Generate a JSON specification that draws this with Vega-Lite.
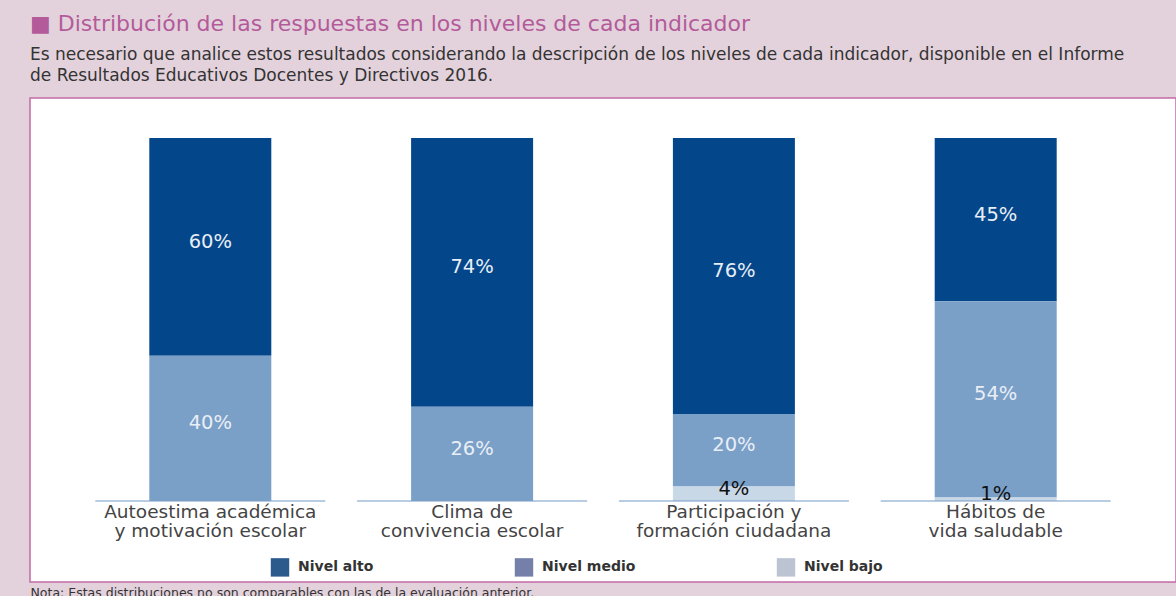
{
  "$schema": "https://vega.github.io/schema/vega-lite/v6.json",
  "width": 1146,
  "height": 484,
  "autosize": {"type": "none"},
  "padding": {"left": 30, "top": 98, "right": 0, "bottom": 14},
  "background": "#e3d2dc",
  "title": {
    "text": "■ Distribución de las respuestas en los niveles de cada indicador",
    "subtitle": ["Es necesario que analice estos resultados considerando la descripción de los niveles de cada indicador, disponible en el Informe", "de Resultados Educativos Docentes y Directivos 2016."],
    "anchor": "start",
    "frame": "group",
    "font": "DejaVu Sans",
    "fontSize": 22,
    "fontWeight": "normal",
    "color": "#b35b9a",
    "subtitleFont": "DejaVu Sans",
    "subtitleFontSize": 17,
    "subtitleColor": "#333333",
    "subtitleLineHeight": 21,
    "subtitlePadding": 11,
    "offset": 13
  },
  "data": {
    "values": [
      {"indicador": "Autoestima académica|y motivación escolar", "nivel": "Nivel alto", "orden": 3, "valor": 60},
      {"indicador": "Autoestima académica|y motivación escolar", "nivel": "Nivel medio", "orden": 2, "valor": 40},
      {"indicador": "Autoestima académica|y motivación escolar", "nivel": "Nivel bajo", "orden": 1, "valor": 0},
      {"indicador": "Clima de|convivencia escolar", "nivel": "Nivel alto", "orden": 3, "valor": 74},
      {"indicador": "Clima de|convivencia escolar", "nivel": "Nivel medio", "orden": 2, "valor": 26},
      {"indicador": "Clima de|convivencia escolar", "nivel": "Nivel bajo", "orden": 1, "valor": 0},
      {"indicador": "Participación y|formación ciudadana", "nivel": "Nivel alto", "orden": 3, "valor": 76},
      {"indicador": "Participación y|formación ciudadana", "nivel": "Nivel medio", "orden": 2, "valor": 20},
      {"indicador": "Participación y|formación ciudadana", "nivel": "Nivel bajo", "orden": 1, "valor": 4},
      {"indicador": "Hábitos de|vida saludable", "nivel": "Nivel alto", "orden": 3, "valor": 45},
      {"indicador": "Hábitos de|vida saludable", "nivel": "Nivel medio", "orden": 2, "valor": 54},
      {"indicador": "Hábitos de|vida saludable", "nivel": "Nivel bajo", "orden": 1, "valor": 1}
    ]
  },
  "transform": [
    {"stack": "valor", "groupby": ["indicador"], "sort": [{"field": "orden", "order": "ascending"}], "as": ["v0", "v1"]},
    {"calculate": "(datum.v0 + datum.v1) / 2", "as": "mid"},
    {"calculate": "datum.valor + '%'", "as": "etiqueta"}
  ],
  "encoding": {
    "x": {
      "field": "indicador",
      "type": "nominal",
      "sort": null,
      "scale": {"paddingInner": 0.534, "paddingOuter": 0.4557},
      "axis": {
        "orient": "bottom",
        "offset": -81,
        "domain": false,
        "ticks": false,
        "labelAngle": 0,
        "labelPadding": 1,
        "labelFont": "DejaVu Sans",
        "labelFontSize": 18.5,
        "labelColor": "#444444",
        "labelLineHeight": 19.5,
        "labelLimit": 400,
        "labelExpr": "split(datum.label, '|')",
        "title": "Nota: Estas distribuciones no son comparables con las de la evaluación anterior.",
        "titleFont": "DejaVu Sans",
        "titleFontSize": 12.5,
        "titleFontWeight": "normal",
        "titleColor": "#333333",
        "titleX": 0,
        "titleY": 91,
        "titleAlign": "left",
        "titleBaseline": "middle",
        "titleAnchor": "start"
      }
    }
  },
  "layer": [
    {
      "mark": {"type": "bar"},
      "encoding": {
        "y": {"field": "v0", "type": "quantitative", "scale": {"domain": [-22.3, 111], "nice": false, "zero": false}, "axis": null},
        "y2": {"field": "v1"},
        "color": {
          "field": "nivel",
          "type": "nominal",
          "scale": {"domain": ["Nivel alto", "Nivel medio", "Nivel bajo"], "range": ["#03468a", "#7ba0c8", "#c9d8e7"]},
          "legend": null
        }
      }
    },
    {
      "mark": {"type": "bar"},
      "encoding": {
        "y": {"field": "v0", "type": "quantitative"},
        "y2": {"field": "v0"},
        "color": {
          "field": "nivel",
          "type": "nominal",
          "scale": {"domain": ["Nivel alto", "Nivel medio", "Nivel bajo"], "range": ["#2d5a8c", "#7480aa", "#bcc3d3"]},
          "legend": {
            "title": null,
            "orient": "none",
            "direction": "horizontal",
            "legendX": 240,
            "legendY": 459,
            "symbolType": "square",
            "symbolSize": 340,
            "labelFont": "DejaVu Sans",
            "labelFontSize": 14,
            "labelFontWeight": "bold",
            "labelColor": "#333333",
            "labelOffset": 8,
            "columnPadding": 140
          }
        }
      }
    },
    {
      "mark": {"type": "tick", "size": 230, "thickness": 1.5, "color": "#7ba0c8"},
      "transform": [{"filter": "datum.nivel === 'Nivel alto'"}],
      "encoding": {
        "y": {"datum": 0, "type": "quantitative"}
      }
    },
    {
      "mark": {"type": "text", "font": "DejaVu Sans", "fontSize": 19.5, "baseline": "middle", "align": "center", "dy": -5},
      "transform": [{"filter": "datum.valor > 0"}],
      "encoding": {
        "y": {"field": "mid", "type": "quantitative"},
        "text": {"field": "etiqueta", "type": "nominal"},
        "color": {"condition": {"test": "datum.nivel === 'Nivel bajo'", "value": "#111111"}, "value": "#e8eef6"}
      }
    }
  ],
  "resolve": {"scale": {"color": "independent"}},
  "config": {
    "view": {"fill": "#ffffff", "stroke": "#c46aa6", "strokeWidth": 1.5}
  }
}
